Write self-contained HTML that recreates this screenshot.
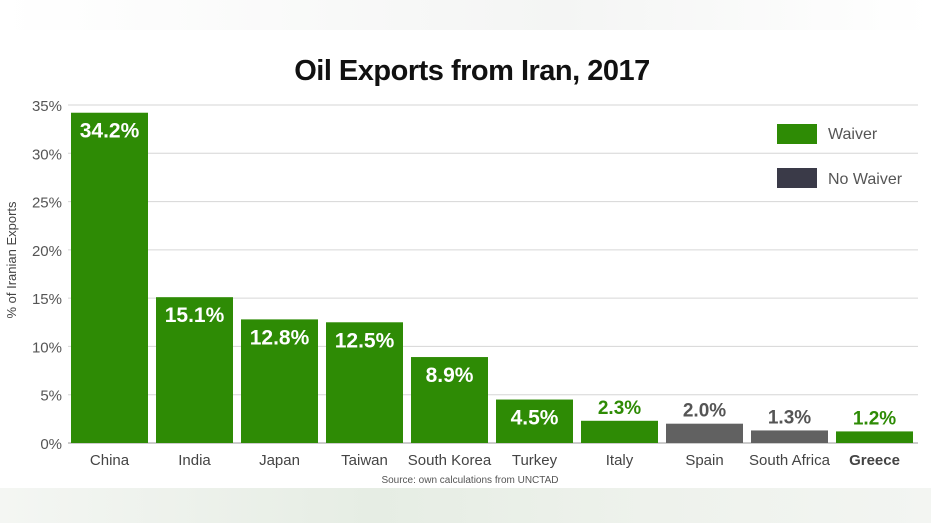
<!DOCTYPE html>
<html><head><meta charset="utf-8"><style>
body{margin:0;width:931px;height:523px;overflow:hidden;background:#fff;font-family:"Liberation Sans",sans-serif}
#bg{position:absolute;left:0;top:488px;width:931px;height:35px;background:linear-gradient(90deg,#f4f6f3,#e6ede4 40%,#eef2ec 70%,#f3f5f2)}
#top{position:absolute;left:0;top:0;width:931px;height:30px;background:linear-gradient(90deg,#fff,#f4f5f4 60%,#fff)}
</style></head><body>
<div id="top"></div>
<div id="bg"></div>
<svg id="chart" width="931" height="523" style="position:absolute;left:0;top:0">
<text x="472" y="80" text-anchor="middle" font-size="29" font-weight="bold" fill="#111" style="letter-spacing:-0.5px">Oil Exports from Iran, 2017</text>
<text transform="translate(16,260) rotate(-90)" text-anchor="middle" font-size="13" fill="#444">% of Iranian Exports</text>
<g id="grid"></g><g id="bars"></g>
<text x="470" y="483" text-anchor="middle" font-size="10" fill="#555">Source:  own calculations from UNCTAD</text>
<rect x="777" y="124" width="40" height="20" fill="#2e8b05"/>
<text x="828" y="139" font-size="16" fill="#555">Waiver</text>
<rect x="777" y="168" width="40" height="20" fill="#3a3a48"/>
<text x="828" y="184" font-size="16" fill="#555">No Waiver</text>
</svg>
<script>
const categories=["China","India","Japan","Taiwan","South Korea","Turkey","Italy","Spain","South Africa","Greece"];
const values=[34.2,15.1,12.8,12.5,8.9,4.5,2.3,2.0,1.3,1.2];
const waiver=[true,true,true,true,true,true,true,false,false,true];
const ticks=[0,5,10,15,20,25,30,35];
const NS="http://www.w3.org/2000/svg";
const x0=68,x1=918,yb=443,yt=105;
const y=v=>yb-(v/35)*(yb-yt);
const band=(x1-x0)/categories.length;
const g=document.getElementById('grid'),b=document.getElementById('bars');
function mk(t,a,p){const e=document.createElementNS(NS,t);for(const k in a)e.setAttribute(k,a[k]);p.appendChild(e);return e;}
ticks.forEach(t=>{
 const l=mk('line',{x1:x0,x2:x1,y1:y(t),y2:y(t),stroke:t==0?'#ccc':'#d6d6d6','stroke-width':t==0?2:1},g);
 
 
 const tx=mk('text',{x:62,y:y(t)+6,'text-anchor':'end','font-size':15,fill:'#555'},g);
 tx.textContent=t+'%';
 
 
});
categories.forEach((c,i)=>{
 const bx=x0+i*band+3,w=band-8,v=values[i];
 const col=waiver[i]?'#2e8b05':'#616161';
 const r=mk('rect',{x:bx,y:y(v),width:w,height:yb-y(v),fill:col},b);
 
 
 const cx=bx+w/2;
 const inside=v>4;
 const lt=mk('text',{x:cx,y:inside?y(v)+25:y(v)-7,'text-anchor':'middle','font-size':inside?21:19,'font-weight':'bold',fill:inside?'#fff':(waiver[i]?'#2e8b05':'#555')},b);
 lt.textContent=v.toFixed(1)+'%';
 
 
 const cl=mk('text',{x:cx,y:465,'text-anchor':'middle','font-size':15,fill:'#444','font-weight':c=='Greece'?'bold':'normal'},b);
 cl.textContent=c;
 
 
});
</script>
</body></html>
